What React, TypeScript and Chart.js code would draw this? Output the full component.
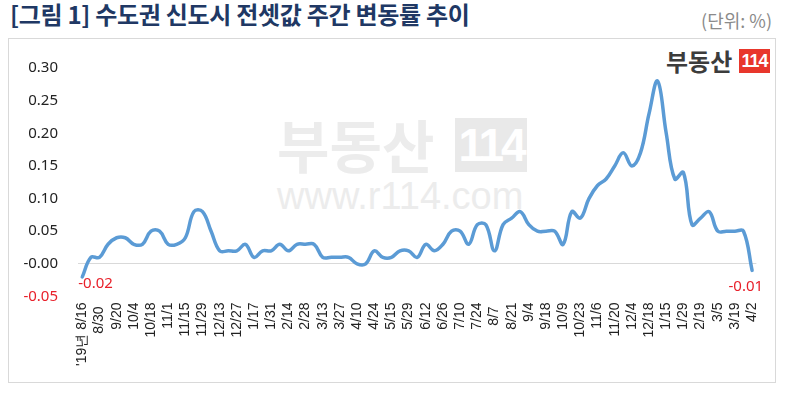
import React, { useEffect, useRef } from "react";
import { Chart, registerables } from "chart.js";

Chart.register(...registerables);

// Tick labels shown on the x axis (every other weekly observation)
const tickLabels: string[] = [
  "'19년 8/16", "8/30 ", "9/20", "10/4", "10/18", "11/1", "11/15", "11/29", "12/13", "12/27",
  "1/17", "1/31", "2/14", "2/28", "3/13", "3/27", "4/10", "4/24", "5/15", "5/29",
  "6/12", "6/26", "7/10", "7/24", "8/7 ", "8/21", "9/4", "9/18", "10/9", "10/23",
  "11/6", "11/20", "12/4", "12/18", "1/15", "1/29", "2/19", "3/5", "3/19", "4/2",
];

// Weekly change rate (%) of jeonse prices in Seoul-area new towns
const weeklyChange: number[] = [
  -0.02, 0.01, 0.01, 0.03, 0.04, 0.04, 0.03, 0.03, 0.05, 0.05,
  0.03, 0.03, 0.04, 0.08, 0.08, 0.05, 0.02, 0.02, 0.02, 0.03,
  0.01, 0.02, 0.02, 0.03, 0.02, 0.03, 0.03, 0.03, 0.01, 0.01,
  0.01, 0.01, 0.00, 0.00, 0.02, 0.01, 0.01, 0.02, 0.02, 0.01,
  0.03, 0.02, 0.03, 0.05, 0.05, 0.03, 0.06, 0.06, 0.02, 0.06,
  0.07, 0.08, 0.06, 0.05, 0.05, 0.05, 0.03, 0.08, 0.07, 0.10,
  0.12, 0.13, 0.15, 0.17, 0.15, 0.17, 0.23, 0.28, 0.20, 0.13,
  0.14, 0.06, 0.07, 0.08, 0.05, 0.05, 0.05, 0.05, -0.01,
];

// Category for each weekly point; only even positions carry a visible label
const categories: string[] = weeklyChange.map((_, i) => (i % 2 === 0 ? tickLabels[i / 2] : ""));

const RED = "#e8202a";
const LINE = "#5B9BD5";

const endLabels = {
  id: "endLabels",
  afterDatasetsDraw(chart: any) {
    const meta = chart.getDatasetMeta(0);
    const pts = meta.data;
    if (!pts || pts.length === 0) return;
    const ctx = chart.ctx;
    const first = pts[0];
    const last = pts[pts.length - 1];
    ctx.save();
    ctx.fillStyle = RED;
    ctx.font = '15px "Noto Sans"';
    ctx.textBaseline = "middle";
    ctx.textAlign = "left";
    ctx.fillText(weeklyChange[0].toFixed(2), first.x - 4, first.y + 7);
    ctx.textAlign = "right";
    ctx.fillText(weeklyChange[weeklyChange.length - 1].toFixed(2), last.x + 11, last.y + 16);
    ctx.restore();
  },
};

export default function App() {
  const ref = useRef<HTMLCanvasElement | null>(null);

  useEffect(() => {
    if (!ref.current) return;
    const chart = new Chart(ref.current, {
      type: "line",
      data: {
        labels: categories,
        datasets: [
          {
            data: weeklyChange,
            borderColor: LINE,
            borderWidth: 3.5,
            tension: 0.4,
            pointRadius: 0,
            fill: false,
            borderCapStyle: "round",
            borderJoinStyle: "round",
          },
        ],
      },
      options: {
        animation: false,
        responsive: false,
        maintainAspectRatio: false,
        layout: { padding: { top: 29, right: 17, left: 0, bottom: 0 } },
        plugins: { legend: { display: false }, tooltip: { enabled: false } },
        scales: {
          x: {
            type: "category",
            offset: true,
            grid: { display: false, drawTicks: false },
            border: { display: false },
            ticks: {
              autoSkip: false,
              maxRotation: 90,
              minRotation: 90,
              padding: 6,
              color: "#222",
              font: { family: '"Liberation Sans", Arial, sans-serif', size: 14 },
            },
            afterFit: (s: any) => {
              s.height = 85.5;
            },
          },
          y: {
            min: -0.05,
            max: 0.3,
            grid: {
              drawTicks: false,
              lineWidth: 1,
              color: (c: any) => (Math.abs(c.tick.value) < 1e-9 ? "#d9d9d9" : "rgba(0,0,0,0)"),
            },
            border: { display: false },
            ticks: {
              stepSize: 0.05,
              padding: 20,
              callback: (v: any) => Number(v).toFixed(2),
              color: (c: any) => (c.tick.value < -1e-9 ? RED : "#222"),
              font: { family: '"Noto Sans", sans-serif', size: 15 },
            },
            afterFit: (s: any) => {
              s.width = 69;
            },
          },
        },
      },
      plugins: [endLabels],
    });
    return () => chart.destroy();
  }, []);

  return (
    <div
      style={{
        position: "absolute",
        left: 0,
        top: 0,
        width: 788,
        height: 394,
        background: "#fff",
        fontFamily: '"Noto Sans CJK KR", "Noto Sans", sans-serif',
        overflow: "hidden",
      }}
    >
      <div
        style={{
          position: "absolute",
          left: 10,
          top: 2,
          fontSize: 24,
          lineHeight: "24px",
          fontWeight: 700,
          color: "#203864",
          whiteSpace: "nowrap",
          letterSpacing: -0.3,
        }}
      >
        [그림 1] 수도권 신도시 전셋값 주간 변동률 추이
      </div>
      <div
        style={{
          position: "absolute",
          right: 16,
          top: 11,
          fontSize: 18,
          lineHeight: "18px",
          color: "#8a8a8a",
          whiteSpace: "nowrap",
        }}
      >
        (단위: %)
      </div>
      <div
        style={{
          position: "absolute",
          left: 8,
          top: 38,
          width: 766,
          height: 343,
          border: "1px solid #d9d9d9",
          background: "#fff",
        }}
      />
      {/* watermark */}
      <div
        style={{
          position: "absolute",
          left: 277,
          top: 113,
          fontSize: 57,
          lineHeight: "60px",
          fontWeight: 700,
          color: "#ececec",
          whiteSpace: "nowrap",
        }}
      >
        부동산
      </div>
      <div
        style={{
          position: "absolute",
          left: 455,
          top: 118,
          width: 72,
          height: 54,
          background: "#e9e9e9",
          color: "#fff",
          fontFamily: '"Liberation Sans", Arial, sans-serif',
          fontWeight: 700,
          fontSize: 46,
          lineHeight: "54px",
          textAlign: "center",
          letterSpacing: -3,
        }}
      >
        114
      </div>
      <div
        style={{
          position: "absolute",
          left: 277,
          top: 174,
          fontFamily: '"Liberation Sans", Arial, sans-serif',
          fontSize: 38,
          lineHeight: "44px",
          color: "#ececec",
          whiteSpace: "nowrap",
        }}
      >
        www.r114.com
      </div>
      {/* logo */}
      <div
        style={{
          position: "absolute",
          left: 666,
          top: 48,
          fontSize: 24,
          lineHeight: "26px",
          fontWeight: 700,
          color: "#3c3c3c",
          whiteSpace: "nowrap",
        }}
      >
        부동산
      </div>
      <div
        style={{
          position: "absolute",
          left: 739,
          top: 49,
          width: 31,
          height: 24,
          background: "#e8372c",
          color: "#fff",
          fontFamily: '"Liberation Sans", Arial, sans-serif',
          fontWeight: 700,
          fontSize: 18,
          lineHeight: "24px",
          textAlign: "center",
          letterSpacing: -1,
        }}
      >
        114
      </div>
      <canvas
        ref={ref}
        width={766}
        height={343}
        style={{ position: "absolute", left: 9, top: 39, width: 766, height: 343 }}
      />
    </div>
  );
}
